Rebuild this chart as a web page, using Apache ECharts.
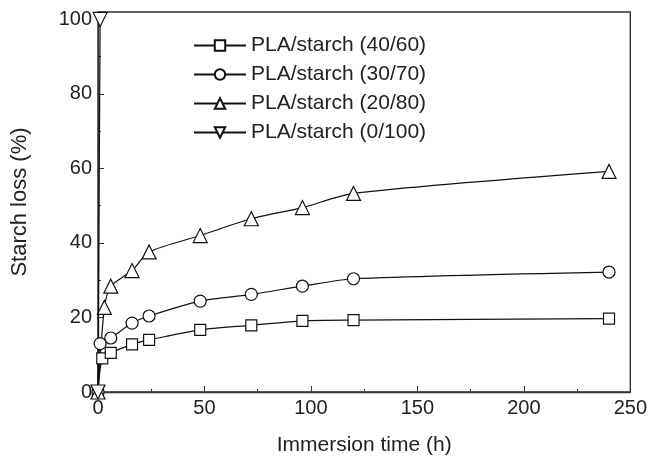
<!DOCTYPE html>
<html>
<head>
<meta charset="utf-8">
<script src="https://cdn.jsdelivr.net/npm/echarts@6/dist/echarts.min.js"></script>
<style>
  html, body { margin: 0; padding: 0; background: #fff; }
  #chart { width: 650px; height: 461px; }
</style>
</head>
<body>
<div id="chart"></div>
<script>
// 資料 (time h, starch loss %)
const seriesNames = [
  "PLA/starch (40/60)",
  "PLA/starch (30/70)",
  "PLA/starch (20/80)",
  "PLA/starch (0/100)",
];
const pla4060 = [[0, 0], [2, 9], [6, 10.5], [16, 12.8], [24, 14], [48, 16.7], [72, 17.9], [96, 19.1], [120, 19.3], [240, 19.7]];
const pla3070 = [[0, 0], [1, 13], [6, 14.5], [16, 18.5], [24, 20.4], [48, 24.4], [72, 26.2], [96, 28.4], [120, 30.4], [240, 32.2]];
const pla2080 = [[0, 0], [3, 22.7], [6, 28.4], [16, 32.6], [24, 37.6], [48, 42], [72, 46.5], [96, 49.5], [120, 53.3], [240, 59.2]];
const pla0100 = [[0, 0], [1, 100]];
const yTickValues = [0, 20, 40, 60, 80, 100];

const fontFamily = "'Liberation Sans', Arial, sans-serif";
const textColor = "#222";

function makeSeries(name, data, symbol, size, rotate) {
  return {
    type: "line",
    name,
    data,
    smooth: 0.25,
    symbol,
    symbolSize: size,
    symbolRotate: rotate || 0,
    lineStyle: { color: "#111", width: 1.2 },
    itemStyle: { color: "#fff", borderColor: "#111", borderWidth: 1.2 },
    emphasis: { disabled: true },
    z: 3,
  };
}

const chart = echarts.init(document.getElementById("chart"), null, { renderer: "canvas" });
chart.setOption({
  animation: false,
  backgroundColor: "#fff",
  textStyle: { fontFamily },
  grid: {
    left: 98,
    right: 17,
    top: 12,
    bottom: 66,
    show: true,
    borderColor: "#333",
    borderWidth: 1.4,
  },
  legend: {
    data: seriesNames,
    orient: "vertical",
    left: 188,
    top: 30,
    itemWidth: 52,
    itemHeight: 13,
    itemGap: 8,
    textStyle: { color: textColor, fontSize: 21, fontFamily },
  },
  xAxis: {
    type: "value",
    min: 0,
    max: 250,
    interval: 50,
    name: "Immersion time (h)",
    nameLocation: "middle",
    nameGap: 43,
    nameTextStyle: { color: textColor, fontSize: 21, fontFamily },
    axisLine: { lineStyle: { color: "#333", width: 1.4 } },
    axisTick: { inside: true, length: 6, lineStyle: { color: "#333" } },
    minorTick: { show: true, splitNumber: 2, length: 3, lineStyle: { color: "#333" } },
    axisLabel: { color: textColor, fontSize: 20, margin: 6, fontFamily },
    splitLine: { show: false },
  },
  yAxis: {
    type: "value",
    min: 0,
    max: 102,
    interval: 20,
    name: "Starch loss (%)",
    nameLocation: "middle",
    nameGap: 67,
    nameTextStyle: { color: textColor, fontSize: 22, fontFamily },
    axisLine: { lineStyle: { color: "#333", width: 1.4 } },
    axisTick: { inside: true, length: 6, customValues: yTickValues, lineStyle: { color: "#333" } },
    minorTick: { show: true, splitNumber: 2, length: 3, lineStyle: { color: "#333" } },
    axisLabel: { color: textColor, fontSize: 20, margin: 6, customValues: yTickValues, fontFamily },
    splitLine: { show: false },
  },
  series: [
    makeSeries(seriesNames[0], pla4060, "rect", 11),
    makeSeries(seriesNames[1], pla3070, "circle", 12),
    makeSeries(seriesNames[2], pla2080, "triangle", 14),
    makeSeries(seriesNames[3], pla0100, "triangle", 14, 180),
  ],
});
</script>
</body>
</html>
